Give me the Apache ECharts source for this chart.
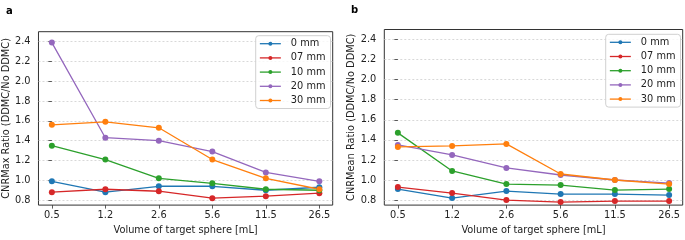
<!DOCTYPE html>
<html>
<head>
<meta charset="utf-8">
<script src="https://cdn.jsdelivr.net/npm/echarts@6/dist/echarts.min.js"></script>
<style>
html,body{margin:0;padding:0;background:#fff;}
#c{width:685px;height:240px;}
</style>
</head>
<body>
<div id="c"></div>
<script>
// ---- data ----
const categories = ['0.5', '1.2', '2.6', '5.6', '11.5', '26.5'];
const seriesNames = ['0 mm', '07 mm', '10 mm', '20 mm', '30 mm'];
const yTicks = [0.8, 1.0, 1.2, 1.4, 1.6, 1.8, 2.0, 2.2, 2.4];

// panel a: CNRMax ratio
const maxRatio_0mm  = [0.99, 0.88, 0.94, 0.94, 0.90, 0.93];
const maxRatio_07mm = [0.88, 0.91, 0.89, 0.82, 0.84, 0.87];
const maxRatio_10mm = [1.35, 1.21, 1.02, 0.97, 0.91, 0.90];
const maxRatio_20mm = [2.39, 1.43, 1.40, 1.29, 1.08, 0.99];
const maxRatio_30mm = [1.56, 1.59, 1.53, 1.21, 1.02, 0.91];

// panel b: CNRMean ratio
const meanRatio_0mm  = [0.91, 0.82, 0.89, 0.86, 0.86, 0.85];
const meanRatio_07mm = [0.93, 0.87, 0.80, 0.78, 0.79, 0.79];
const meanRatio_10mm = [1.47, 1.09, 0.96, 0.95, 0.90, 0.91];
const meanRatio_20mm = [1.35, 1.25, 1.12, 1.05, 1.00, 0.97];
const meanRatio_30mm = [1.33, 1.34, 1.36, 1.06, 1.00, 0.96];

const panelA = [maxRatio_0mm, maxRatio_07mm, maxRatio_10mm, maxRatio_20mm, maxRatio_30mm];
const panelB = [meanRatio_0mm, meanRatio_07mm, meanRatio_10mm, meanRatio_20mm, meanRatio_30mm];

const colors = ['#1f77b4', '#d62728', '#2ca02c', '#9467bd', '#ff7f0e'];
const FONT = 'DejaVu Sans';
const FS = 9.8;

function xAxis(gi) {
  return {
    type: 'value', gridIndex: gi, min: -0.25, max: 5.25,
    name: 'Volume of target sphere [mL]', nameLocation: 'middle', nameGap: 16,
    nameTextStyle: {fontFamily: FONT, fontSize: FS, color: '#222'},
    axisLine: {show: false},
    axisTick: {show: true, inside: false, length: 3.5, customValues: categories.map((c, i) => i),
      lineStyle: {color: '#333', width: 0.8}},
    axisLabel: {customValues: categories.map((c, i) => i), formatter: v => categories[Math.round(v)],
      fontFamily: FONT, fontSize: FS, color: '#222', margin: 5},
    splitLine: {show: false}
  };
}
function yAxis(gi, name, gap) {
  return {
    type: 'value', gridIndex: gi, min: 0.75, max: 2.5,
    name: name, nameLocation: 'middle', nameGap: gap,
    nameTextStyle: {fontFamily: FONT, fontSize: FS, color: '#222'},
    axisLine: {show: false},
    axisTick: {show: true, length: 3.5, customValues: yTicks, lineStyle: {color: '#333', width: 0.8}},
    axisLabel: {customValues: yTicks, formatter: v => v.toFixed(1),
      fontFamily: FONT, fontSize: FS, color: '#222', margin: 8},
    splitLine: {show: true, lineStyle: {color: '#cfcfcf', type: [2, 2], width: 0.8}}
  };
}
function makeSeries(data, gi) {
  return data.map((vals, k) => ({
    name: seriesNames[k], type: 'line', xAxisIndex: gi, yAxisIndex: gi,
    data: vals.map((v, i) => [i, v]),
    symbol: 'circle', symbolSize: 6, color: colors[k],
    lineStyle: {width: 1.3, color: colors[k]},
    itemStyle: {color: colors[k]},
    emphasis: {disabled: true}, animation: false
  }));
}
function legend(left, top) {
  return {
    orient: 'vertical', left: left, top: top, data: seriesNames,
    itemWidth: 21, itemHeight: 5, itemGap: 4.2,
    padding: [3, 5, 3, 3.5],
    borderColor: '#d0d0d0', borderWidth: 1, borderRadius: 3,
    backgroundColor: 'rgba(255,255,255,0.8)',
    lineStyle: {width: 1.3},
    textStyle: {fontFamily: FONT, fontSize: FS, color: '#222', lineHeight: 10, padding: [0, 0, 0, 5]},
    selectedMode: false
  };
}

const chart = echarts.init(document.getElementById('c'), null, {renderer: 'canvas'});
chart.setOption({
  animation: false,
  backgroundColor: '#fff',
  title: [
    {text: 'a', left: 1, top: 1, textStyle: {fontFamily: FONT, fontSize: 10, fontWeight: 'bold', color: '#000'}},
    {text: 'b', left: 346, top: 0, textStyle: {fontFamily: FONT, fontSize: 10, fontWeight: 'bold', color: '#000'}}
  ],
  grid: [
    {left: 37.3, top: 31.7, right: 352.3, bottom: 27.3, show: true, borderColor: '#333', borderWidth: 1, backgroundColor: 'transparent'},
    {left: 384.3, top: 29.5, right: 2.3, bottom: 28.3, show: true, borderColor: '#333', borderWidth: 1, backgroundColor: 'transparent'}
  ],
  xAxis: [xAxis(0), xAxis(1)],
  yAxis: [yAxis(0, 'CNRMax Ratio (DDMC/No DDMC)', 23.5), yAxis(1, 'CNRMean Ratio (DDMC/No DDMC)', 22.5)],
  legend: [legend(255.7, 35.7), legend(605.7, 34.3)],
  series: makeSeries(panelA, 0).concat(makeSeries(panelB, 1))
});
</script>
</body>
</html>
